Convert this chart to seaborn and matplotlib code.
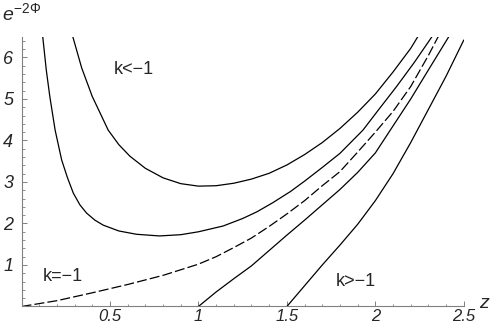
import matplotlib
matplotlib.use("Agg")
import matplotlib.pyplot as plt
import seaborn as sns
from matplotlib.ticker import MultipleLocator, FixedLocator

# curves: z values and e^{-2Phi}
z_k_lt_a = [0.29, 0.34, 0.40, 0.49, 0.55, 0.613, 0.70, 0.80, 0.90, 1.0, 1.1, 1.2, 1.3,
            1.4, 1.5, 1.6, 1.7, 1.8, 1.9, 2.0, 2.1, 2.2, 2.24]
y_k_lt_a = [6.5, 5.75, 5.06, 4.25, 3.90, 3.62, 3.33, 3.10, 2.96, 2.90, 2.91, 2.97, 3.07,
            3.21, 3.41, 3.66, 3.95, 4.29, 4.68, 5.12, 5.65, 6.22, 6.5]

z_k_lt_b = [0.12, 0.14, 0.16, 0.19, 0.227, 0.26, 0.293, 0.33, 0.368, 0.415, 0.462, 0.55,
            0.65, 0.78, 0.9, 1.0, 1.14, 1.25, 1.33, 1.42, 1.52, 1.6, 1.7, 1.8, 1.93,
            2.02, 2.12, 2.22, 2.32]
y_k_lt_b = [6.5, 5.7, 5.06, 4.25, 3.53, 3.1, 2.73, 2.45, 2.25, 2.08, 1.96, 1.82,
            1.74, 1.70, 1.73, 1.80, 1.94, 2.12, 2.28, 2.50, 2.77, 3.02, 3.35, 3.69, 4.25,
            4.75, 5.30, 5.88, 6.5]

z_k_eq = [0.0, 0.2, 0.4, 0.6, 0.8, 1.0, 1.1, 1.2, 1.3, 1.4, 1.5, 1.6, 1.7, 1.8,
          1.9, 2.0, 2.1, 2.2, 2.3, 2.355]
y_k_eq = [0.0, 0.14, 0.33, 0.53, 0.75, 1.02, 1.2, 1.42, 1.65, 1.93, 2.23, 2.55, 2.91,
          3.25, 3.72, 4.2, 4.7, 5.3, 6.05, 6.5]

z_k_gt_a = [1.0, 1.1, 1.2, 1.3, 1.4, 1.5, 1.6, 1.7, 1.8, 1.9, 2.0, 2.1, 2.2, 2.3, 2.415]
y_k_gt_a = [0.0, 0.35, 0.67, 0.98, 1.35, 1.72, 2.08, 2.45, 2.82, 3.23, 3.70, 4.35,
            5.0, 5.7, 6.5]

z_k_gt_b = [1.5, 1.6, 1.7, 1.8, 1.9, 2.0, 2.1, 2.2, 2.3, 2.4, 2.5]
y_k_gt_b = [0.0, 0.5, 1.0, 1.48, 1.98, 2.55, 3.2, 3.95, 4.75, 5.55, 6.42]

x_ticks = [0.5, 1, 1.5, 2, 2.5]
x_tick_labels = ["0.5", "1", "1.5", "2", "2.5"]
y_ticks = [1, 2, 3, 4, 5, 6]
y_tick_labels = ["1", "2", "3", "4", "5", "6"]

sns.set_style("ticks")
plt.rcParams["font.family"] = ["Liberation Sans", "DejaVu Sans"]
plt.rcParams["mathtext.fontset"] = "custom"
plt.rcParams["mathtext.rm"] = "Liberation Sans"
plt.rcParams["mathtext.it"] = "Liberation Sans:italic"

fig = plt.figure(figsize=(4.91, 3.27), dpi=100)
ax = fig.add_axes([0.0438, 0.0627, 0.9008, 0.825])

for zz, yy in [(z_k_lt_a, y_k_lt_a), (z_k_lt_b, y_k_lt_b),
               (z_k_gt_a, y_k_gt_a), (z_k_gt_b, y_k_gt_b)]:
    sns.lineplot(x=zz, y=yy, ax=ax, color="black", lw=0.9,
                 estimator=None, sort=False)
sns.lineplot(x=z_k_eq, y=y_k_eq, ax=ax, color="black", lw=0.9,
             estimator=None, sort=False, linestyle=(0, (8, 2.5)))

ax.set_xlim(0, 2.5)
ax.set_ylim(0, 6.5)
for side in ["top", "right"]:
    ax.spines[side].set_visible(False)
for side in ["left", "bottom"]:
    ax.spines[side].set_color("0.5")
    ax.spines[side].set_linewidth(0.8)

ax.xaxis.set_major_locator(FixedLocator(x_ticks))
ax.yaxis.set_major_locator(FixedLocator(y_ticks))
ax.xaxis.set_minor_locator(MultipleLocator(0.1))
ax.yaxis.set_minor_locator(MultipleLocator(0.2))
ax.set_xticklabels(x_tick_labels, fontstyle="italic", fontsize=12)
ax.set_yticklabels(y_tick_labels, fontstyle="italic", fontsize=13)
ax.tick_params(which="major", direction="in", length=3.5, width=0.7, color="0.5")
ax.tick_params(which="minor", direction="in", length=1.8, width=0.6, color="0.5")
ax.tick_params(axis="x", which="major", pad=2)
ax.tick_params(axis="y", which="major", pad=6)
ax.set_xlabel("")
ax.set_ylabel("")

ax.text(0.523, 5.70, "k<\u22121", fontsize=13, va="center", ha="left")
ax.text(0.12, 0.72, "k=\u22121", fontsize=13, va="center", ha="left")
ax.text(1.777, 0.60, "k>\u22121", fontsize=13, va="center", ha="left")

fig.text(484 / 491, 1 - 304 / 327, "z", fontsize=14, fontstyle="italic",
         ha="center", va="center")
fig.text(2 / 491, 1 - 20 / 327, r"$e^{-2\Phi}$", fontsize=14,
         ha="left", va="baseline")

fig.savefig("out.png", dpi=100)
